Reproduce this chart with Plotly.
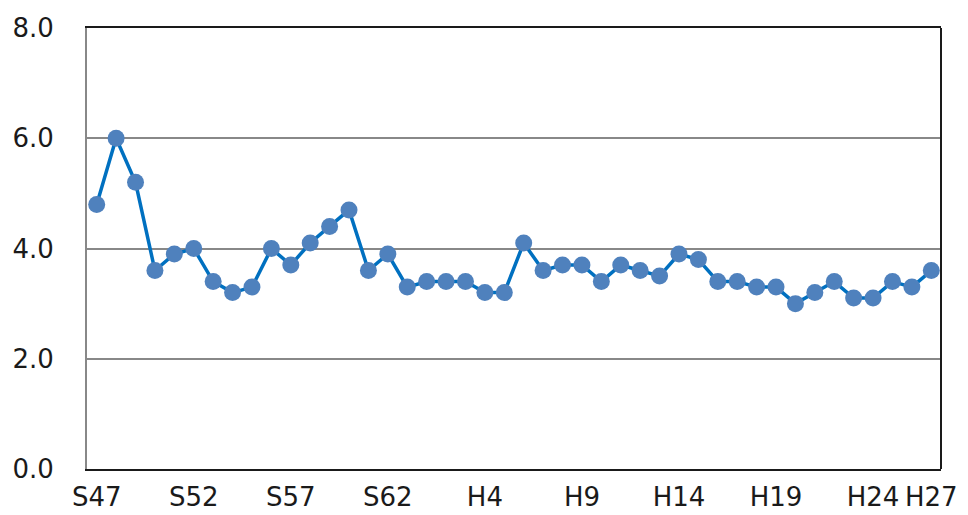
import plotly.graph_objects as go

years = [f"S{y}" for y in range(47, 64)] + [f"H{y}" for y in range(1, 28)]
values = [4.8, 6.0, 5.2, 3.6, 3.9, 4.0, 3.4, 3.2, 3.3, 4.0,
          3.7, 4.1, 4.4, 4.7, 3.6, 3.9, 3.3, 3.4, 3.4, 3.4,
          3.2, 3.2, 4.1, 3.6, 3.7, 3.7, 3.4, 3.7, 3.6, 3.5,
          3.9, 3.8, 3.4, 3.4, 3.3, 3.3, 3.0, 3.2, 3.4, 3.1,
          3.1, 3.4, 3.3, 3.6]
tick_labels = ["S47", "S52", "S57", "S62", "H4", "H9", "H14", "H19", "H24", "H27"]
y_ticks = [0, 2, 4, 6, 8]

font_family = "DejaVu Sans, sans-serif"
tick_font = dict(family=font_family, size=26, color="#1a1a1a")

fig = go.Figure()
fig.add_trace(go.Scatter(
    x=years, y=values, mode="lines+markers",
    line=dict(color="#0070C0", width=3.5),
    marker=dict(color="#4F81BD", size=17, line=dict(width=0)),
    showlegend=False, cliponaxis=False, hoverinfo="skip",
))

fig.update_layout(
    width=968, height=515,
    margin=dict(l=87, r=27, t=28, b=46, autoexpand=False),
    paper_bgcolor="white", plot_bgcolor="white",
    font=tick_font,
    xaxis=dict(
        type="category", categoryorder="array", categoryarray=years,
        range=[-0.5, len(years) - 0.5],
        tickmode="array", tickvals=tick_labels, ticktext=tick_labels,
        tickfont=tick_font,
        showgrid=False, showline=True, linecolor="#1a1a1a", linewidth=2,
        mirror=True, ticks="", ticklabelstandoff=4,
        tickangle=0, automargin=False,
    ),
    yaxis=dict(
        range=[0, 8], tickmode="array", tickvals=y_ticks,
        ticktext=[f"{v:.1f}" for v in y_ticks],
        tickfont=tick_font,
        showgrid=True, gridcolor="#888888", gridwidth=2,
        showline=True, linecolor="#888888", linewidth=2,
        zeroline=False, ticks="", ticklabelstandoff=26, automargin=False,
    ),
)

# right-hand border of the plot frame
fig.add_shape(type="line", xref="paper", yref="paper", x0=1, x1=1, y0=0, y1=1,
              line=dict(color="#1a1a1a", width=2))

fig.write_html("out.html", config={"displayModeBar": False},
               post_script="document.body.style.margin='0';")
